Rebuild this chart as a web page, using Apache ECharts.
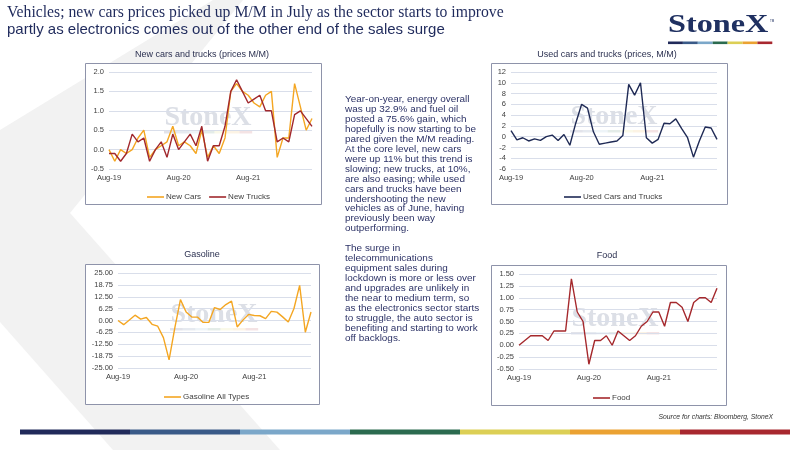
<!DOCTYPE html>
<html>
<head>
<meta charset="utf-8">
<script src="https://cdn.jsdelivr.net/npm/echarts@6/dist/echarts.min.js"></script>
<style>
  html, body { margin: 0; padding: 0; background: #fff; }
  #main { width: 800px; height: 450px; }
</style>
</head>
<body>
<div id="main"></div>
<script>
// month labels, Aug-19 .. Jul-22
var months = ['Aug-19','Sep-19','Oct-19','Nov-19','Dec-19','Jan-20','Feb-20','Mar-20','Apr-20','May-20','Jun-20','Jul-20',
              'Aug-20','Sep-20','Oct-20','Nov-20','Dec-20','Jan-21','Feb-21','Mar-21','Apr-21','May-21','Jun-21','Jul-21',
              'Aug-21','Sep-21','Oct-21','Nov-21','Dec-21','Jan-22','Feb-22','Mar-22','Apr-22','May-22','Jun-22','Jul-22'];
// gasoline and food stop one month earlier
var monthsShort = months.slice(0, 35);

var newCars   = [0.0,-0.3,0.0,-0.1,0.0,0.3,0.5,-0.2,0.0,0.1,0.2,0.6,0.1,0.2,0.1,-0.1,0.5,-0.2,0.1,-0.1,0.3,1.5,1.7,1.5,1.4,1.2,1.1,1.4,1.5,-0.2,0.3,0.3,1.7,1.1,0.5,0.8];
var newTrucks = [-0.1,-0.1,-0.3,-0.1,0.4,0.2,0.3,-0.3,0.0,0.2,-0.2,0.4,0.0,0.2,0.4,0.1,0.6,-0.3,0.1,0.1,0.6,1.5,1.8,1.5,1.2,1.3,1.4,1.0,1.0,0.2,0.3,0.2,0.9,1.0,0.8,0.6];
var usedCars  = [1.1,-0.6,-0.2,-0.8,-0.4,-0.7,0.0,0.3,-0.7,0.4,-1.6,2.5,6.0,5.3,0.9,-1.4,-1.2,-1.0,-0.8,0.2,9.7,7.7,10.0,-0.2,-1.2,-0.5,2.5,2.4,3.3,1.5,-0.2,-3.8,-0.8,1.8,1.6,-0.5];
var gasoline  = [0.0,-2.2,0.3,2.8,0.7,1.6,-2.0,-3.0,-9.0,-20.7,-4.0,11.0,4.5,1.8,1.8,-1.0,-1.0,6.8,5.8,8.4,10.2,-3.4,0.2,3.2,2.6,2.5,1.0,4.8,4.4,1.9,-0.8,6.3,18.5,-6.2,4.5];
var food      = [0.0,0.1,0.2,0.2,0.2,0.1,0.3,0.3,0.3,1.4,0.7,0.5,-0.4,0.1,0.1,0.2,0.0,0.3,0.2,0.1,0.2,0.4,0.5,0.7,0.7,0.4,0.9,0.9,0.8,0.5,0.9,1.0,1.0,0.9,1.2];

var chartTitles = ['New cars and trucks (prices M/M)', 'Used cars and trucks (prices, M/M)', 'Gasoline', 'Food'];

var bodyText = [
  'Year-on-year, energy overall',
  'was up 32.9% and fuel oil',
  'posted a 75.6% gain, which',
  'hopefully is now starting to be',
  'pared given the M/M reading.',
  'At the core level, new cars',
  'were up 11% but this trend is',
  'slowing; new trucks, at 10%,',
  'are also easing; while used',
  'cars and trucks have been',
  'undershooting the new',
  'vehicles as of June, having',
  'previously been way',
  'outperforming.',
  '',
  'The surge in',
  'telecommunications',
  'equipment sales during',
  'lockdown is more or less over',
  'and upgrades are unlikely in',
  'the near to medium term, so',
  'as the electronics sector starts',
  'to struggle, the auto sector is',
  'benefiting and starting to work',
  'off backlogs.'
];

var stripeColors = ['#212a5a', '#3a5a88', '#7ba7c9', '#2b6b4f', '#dccf55', '#eba232', '#a8282f'];

var SANS = '"Liberation Sans", Arial, sans-serif';
var SERIF = '"Liberation Serif", "Times New Roman", serif';
var NAVY = '#1f2a5c';
var LABEL = '#404040';

var myChart = echarts.init(document.getElementById('main'));

function xAxisFor(idx, data) {
    return {
        gridIndex: idx,
        type: 'category',
        data: data,
        boundaryGap: false,
        axisLine: { show: false },
        axisTick: { show: false },
        axisLabel: { interval: 11, fontSize: 7.5, color: LABEL, fontFamily: SANS, margin: 5 },
        splitLine: { show: false }
    };
}

function yAxisFor(idx, min, max, step, digits) {
    return {
        gridIndex: idx,
        type: 'value',
        min: min,
        max: max,
        interval: step,
        axisLine: { show: false },
        axisTick: { show: false },
        axisLabel: {
            fontSize: 7.5, color: LABEL, fontFamily: SANS, margin: 5,
            formatter: function (v) { return v.toFixed(digits); }
        },
        splitLine: { lineStyle: { color: '#d9deea', width: 1 } }
    };
}

function lineSeries(name, idx, data, color) {
    return {
        name: name,
        type: 'line',
        xAxisIndex: idx,
        yAxisIndex: idx,
        data: data,
        symbol: 'none',
        lineStyle: { color: color, width: 1.4 },
        itemStyle: { color: color },
        animation: false
    };
}

function legendFor(names, top, left) {
    return {
        data: names,
        top: top,
        left: left,
        icon: 'rect',
        itemWidth: 17,
        itemHeight: 1.6,
        itemGap: 8,
        textStyle: { fontSize: 8, color: LABEL, fontFamily: SANS, padding: [0, 0, 0, -3] }
    };
}

// chart frames and watermarks
var boxes = [
    { x: 85, y: 63, w: 236, h: 141 },
    { x: 491, y: 63, w: 236, h: 141 },
    { x: 85, y: 264, w: 234, h: 140 },
    { x: 491, y: 265, w: 235, h: 140 }
];
var marks = [[208, 118], [614, 117], [214, 315], [615, 319]];
var titlePos = [[202, 55], [607, 55], [202, 255], [607, 256]];

var graphics = [];
graphics.push({
    type: 'polygon', z: -3, silent: true,
    shape: { points: [[213, 0], [243, 0], [70, 213], [280, 450], [113, 450], [0, 322], [0, 130]] },
    style: { fill: '#f2f2f2' }
});
boxes.forEach(function (b, i) {
    graphics.push({
        type: 'rect', z: -2, silent: true,
        shape: { x: b.x + 0.5, y: b.y + 0.5, width: b.w, height: b.h },
        style: { fill: '#ffffff', stroke: '#8e93aa', lineWidth: 1 }
    });
    graphics.push({
        type: 'text', z: -1, silent: true,
        x: titlePos[i][0], y: titlePos[i][1],
        style: { text: chartTitles[i], fill: '#2b3050', fontSize: 9, fontFamily: SANS, textAlign: 'center', textVerticalAlign: 'middle' }
    });
    var m = marks[i];
    graphics.push({
        type: 'text', z: -1, silent: true,
        x: m[0], y: m[1],
        style: { text: 'StoneX', fill: '#dcdfe6', fontSize: 28, fontWeight: 'bold', fontFamily: SERIF, textAlign: 'center', textVerticalAlign: 'middle' }
    });
    for (var k = 0; k < 7; k++) {
        graphics.push({
            type: 'rect', z: -1, silent: true,
            shape: { x: m[0] - 44 + k * 12.6, y: m[1] + 13, width: 12.6, height: 2.5 },
            style: { fill: stripeColors[k], opacity: 0.13 }
        });
    }
});

// headline
graphics.push({
    type: 'text', x: 7, y: 21,
    style: { text: 'Vehicles; new cars prices picked up M/M in July as the sector starts to improve', fill: NAVY, fontSize: 15.7, fontFamily: SERIF, textVerticalAlign: 'bottom' }
});
graphics.push({
    type: 'text', x: 7, y: 37.5,
    style: { text: 'partly as electronics comes out of the other end of the sales surge', fill: NAVY, fontSize: 15, fontFamily: SANS, textVerticalAlign: 'bottom' }
});

// logo
graphics.push({
    type: 'text', x: 668, y: 38, scaleX: 1.29,
    style: { text: 'StoneX', fill: '#1f3061', fontSize: 25, fontWeight: 'bold', fontFamily: SERIF, textVerticalAlign: 'bottom' }
});
graphics.push({
    type: 'text', x: 770, y: 20,
    style: { text: 'TM', fill: '#1f3061', fontSize: 3, fontFamily: SANS }
});
for (var s = 0; s < 7; s++) {
    graphics.push({
        type: 'rect', shape: { x: 668 + s * 14.9, y: 41.5, width: 14.9, height: 2.6 },
        style: { fill: stripeColors[s] }
    });
    graphics.push({
        type: 'rect', shape: { x: 20 + s * 110, y: 429.5, width: 110, height: 5 },
        style: { fill: stripeColors[s] }
    });
}

// commentary
graphics.push({
    type: 'text', x: 345, y: 94.5, scaleX: 1.13,
    style: { text: bodyText.join('\n'), fill: '#2c3266', fontSize: 8.8, lineHeight: 9.96, fontFamily: SANS }
});

graphics.push({
    type: 'text', x: 773, y: 417,
    style: { text: 'Source for charts: Bloomberg, StoneX', fill: '#333', fontSize: 6.8, fontStyle: 'italic', fontFamily: SANS, textAlign: 'right', textVerticalAlign: 'middle' }
});

myChart.setOption({
    animation: false,
    backgroundColor: '#ffffff',
    grid: [
        { left: 109, right: 488, top: 72, bottom: 281 },
        { left: 511, right: 83, top: 72, bottom: 281 },
        { left: 118, right: 489, top: 273, bottom: 82 },
        { left: 519, right: 83, top: 274, bottom: 81 }
    ],
    xAxis: [
        xAxisFor(0, months),
        xAxisFor(1, months),
        xAxisFor(2, monthsShort),
        xAxisFor(3, monthsShort)
    ],
    yAxis: [
        yAxisFor(0, -0.5, 2.0, 0.5, 1),
        yAxisFor(1, -6, 12, 2, 0),
        yAxisFor(2, -25, 25, 6.25, 2),
        yAxisFor(3, -0.5, 1.5, 0.25, 2)
    ],
    legend: [
        legendFor(['New Cars', 'New Trucks'], 188, 142),
        legendFor(['Used Cars and Trucks'], 188, 559),
        legendFor(['Gasoline All Types'], 388, 159),
        legendFor(['Food'], 389, 588)
    ],
    series: [
        lineSeries('New Cars', 0, newCars, '#f4a622'),
        lineSeries('New Trucks', 0, newTrucks, '#a1282d'),
        lineSeries('Used Cars and Trucks', 1, usedCars, '#1f2a55'),
        lineSeries('Gasoline All Types', 2, gasoline, '#f4a622'),
        lineSeries('Food', 3, food, '#a5282c')
    ],
    graphic: { elements: graphics }
});
</script>
</body>
</html>
